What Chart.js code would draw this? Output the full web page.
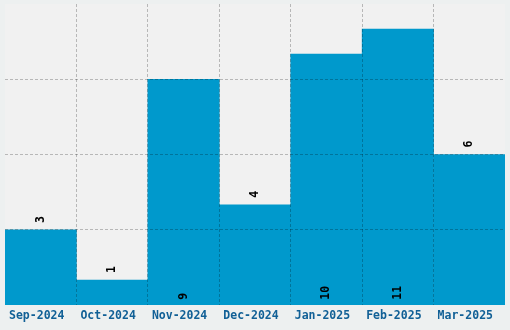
<!DOCTYPE html>
<html><head><meta charset="utf-8">
<script src="https://cdn.jsdelivr.net/npm/chart.js@4"></script>
<style>html,body{margin:0;padding:0;background:#edf0f0;}#wrap{width:510px;height:330px;}</style>
</head><body><div id="wrap"><canvas id="c" width="510" height="330"></canvas></div>
<script>
const categories = ["Sep-2024","Oct-2024","Nov-2024","Dec-2024","Jan-2025","Feb-2025","Mar-2025"];
const values = [3, 1, 9, 4, 10, 11, 6];
const yTicks = [0, 3, 6, 9, 12];

const bgPlugin = {
  id: 'bg',
  beforeDraw(chart) {
    const {ctx, chartArea: a} = chart;
    ctx.save();
    ctx.fillStyle = '#f1f1f1';
    ctx.fillRect(a.left, a.top, a.right - a.left, a.bottom - a.top);
    ctx.restore();
  }
};
const labelPlugin = {
  id: 'vlabels',
  afterDraw(chart) {
    const {ctx} = chart;
    const meta = chart.getDatasetMeta(0);
    const yMax = chart.scales.y.max;
    ctx.save();
    ctx.font = 'bold 11.5px "DejaVu Sans Mono", monospace';
    ctx.fillStyle = '#000';
    ctx.textBaseline = 'middle';
    meta.data.forEach((bar, i) => {
      const v = values[i];
      ctx.save();
      let y;
      if (v / yMax > 0.7) { y = bar.base - 5; } else { y = bar.y - 7; }
      ctx.translate(bar.x, y);
      ctx.rotate(-Math.PI / 2);
      ctx.textAlign = 'left';
      ctx.fillText(String(v), 0, 0);
      ctx.restore();
    });
    ctx.restore();
  }
};
const gridCol = 'rgba(0,0,0,0.24)';
const none = 'rgba(0,0,0,0)';

new Chart(document.getElementById('c'), {
  type: 'bar',
  data: { labels: categories, datasets: [{ data: values, backgroundColor: '#0099cc', borderWidth: 0, categoryPercentage: 1, barPercentage: 1 }] },
  options: {
    responsive: false, animation: false, devicePixelRatio: 1,
    layout: { padding: { left: 5, right: 5, top: 4, bottom: 3 } },
    plugins: { legend: { display: false }, tooltip: { enabled: false } },
    scales: {
      x: {
        grid: { z: 1, offset: true, drawTicks: false, lineWidth: 1, borderDash: [3, 2],
          color: c => (c.type !== 'tick' || c.index === 0) ? none : gridCol },
        border: { display: false, dash: [3, 2] },
        ticks: { padding: 4, labelOffset: -4, color: '#116096', font: { family: '"DejaVu Sans Mono", monospace', size: 11.5, weight: 'bold' }, maxRotation: 0, autoSkip: false }
      },
      y: {
        display: true, min: yTicks[0], max: yTicks[yTicks.length - 1],
        afterBuildTicks: s => { s.ticks = yTicks.map(v => ({ value: v })); },
        grid: { z: 1, drawTicks: false, borderDash: [3, 2], color: c => (!c.tick || c.tick.value === yTicks[0] || c.tick.value === yTicks[yTicks.length-1]) ? none : gridCol },
        border: { display: false, dash: [3, 2] },
        ticks: { display: false }
      }
    }
  },
  plugins: [bgPlugin, labelPlugin]
});
</script></body></html>
